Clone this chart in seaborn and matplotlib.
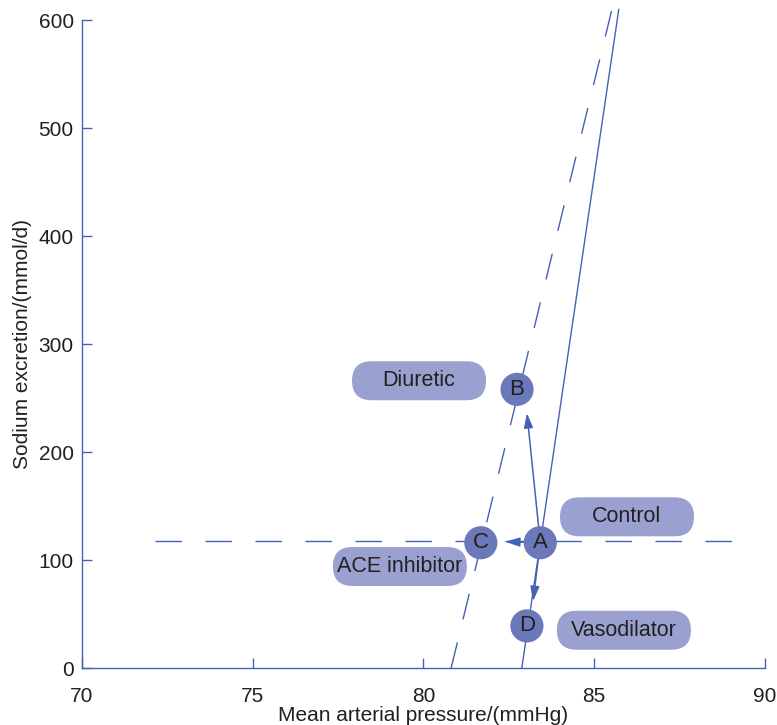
import numpy as np
import pandas as pd
import matplotlib
matplotlib.use("Agg")
import matplotlib.pyplot as plt
import seaborn as sns
from matplotlib.patches import FancyBboxPatch

# ---------- data ----------
control_x = [82.88, 85.72]
control_y = [0, 610]
shifted_x = [80.81, 85.52]
shifted_y = [0, 610]
level_x = [72.15, 89.35]
level_y = [117.5, 117.5]

point_names = ["A", "B", "C", "D"]
point_x = [83.42, 82.74, 81.68, 83.03]
point_y = [116, 258, 116, 39]

# arrows from A towards B, C, D (tip positions)
arrow_tip_x = [83.03, 82.39, 83.21]
arrow_tip_y = [236, 117, 62]

box_labels = ["Diuretic", "Control", "ACE inhibitor", "Vasodilator"]
box_x = [79.87, 85.96, 79.31, 85.87]
box_y = [266, 140, 94, 35]

xticks = [70, 75, 80, 85, 90]
yticks = [0, 100, 200, 300, 400, 500, 600]

LINE = "#4462b4"
DOT = "#6b78ba"
PILL = "#9aa1d0"
TXT = "#231f20"

sns.set_theme(style="white")
plt.rcParams["font.family"] = ["Liberation Sans", "DejaVu Sans"]

fig = plt.figure(figsize=(7.77, 7.25), dpi=100)
ax = fig.add_axes([0.1055, 0.0786, 0.879, 0.8938])

dash = (0, (19, 17))
sns.lineplot(x=control_x, y=control_y, color=LINE, lw=1.0, ax=ax, sort=False)
sns.lineplot(x=shifted_x, y=shifted_y, color=LINE, lw=1.0, ax=ax, sort=False,
             linestyle=dash)
sns.lineplot(x=level_x, y=level_y, color=LINE, lw=1.0, ax=ax, sort=False,
             linestyle=dash)

# arrows
for tx, ty in zip(arrow_tip_x, arrow_tip_y):
    ax.annotate("", xy=(tx, ty), xytext=(point_x[0], point_y[0]),
                arrowprops=dict(arrowstyle="-|>,head_length=0.8,head_width=0.25",
                                color=LINE, lw=1.1,
                                mutation_scale=11, shrinkA=0, shrinkB=0),
                zorder=3)

# pills (rounded boxes), corners made round in pixel space
ux = (90 - 70) / (0.879 * 777)
uy = 600 / (0.8938 * 725)
w, h = 134 * ux, 39 * uy
for lab, bx, by in zip(box_labels, box_x, box_y):
    p = FancyBboxPatch((bx - w / 2, by - h / 2), w, h,
                       boxstyle=f"round,pad=0,rounding_size={19.5 * ux}",
                       mutation_aspect=uy / ux, fc=PILL, ec="none", zorder=2)
    ax.add_patch(p)
    ax.text(bx, by, lab, ha="center", va="center", fontsize=15.5,
            color=TXT, zorder=5)

df = pd.DataFrame({"x": point_x, "y": point_y, "name": point_names})
sns.scatterplot(data=df, x="x", y="y", s=570, color=DOT, edgecolor="none",
                ax=ax, zorder=4)
for nm, px, py in zip(point_names, point_x, point_y):
    ax.text(px, py, nm, ha="center", va="center", fontsize=16, color=TXT,
            zorder=5)

ax.set_xlim(70, 90)
ax.set_ylim(0, 600)
ax.set_xticks(xticks)
ax.set_yticks(yticks)
ax.tick_params(direction="in", length=7, width=1, color=LINE,
               labelsize=15, labelcolor=TXT, bottom=True, left=True)
ax.tick_params(axis="x", pad=14)
ax.tick_params(axis="y", pad=6)
for s in ["top", "right"]:
    ax.spines[s].set_visible(False)
for s in ["left", "bottom"]:
    ax.spines[s].set_color(LINE)
    ax.spines[s].set_linewidth(1.0)
ax.set_xlabel("Mean arterial pressure/(mmHg)", fontsize=15, color=TXT, labelpad=0)
ax.set_ylabel("Sodium excretion/(mmol/d)", fontsize=15, color=TXT, labelpad=5)
ax.patch.set_alpha(0)
for ln in ax.lines:
    ln.set_clip_on(False)

fig.savefig("out.png", dpi=100)
